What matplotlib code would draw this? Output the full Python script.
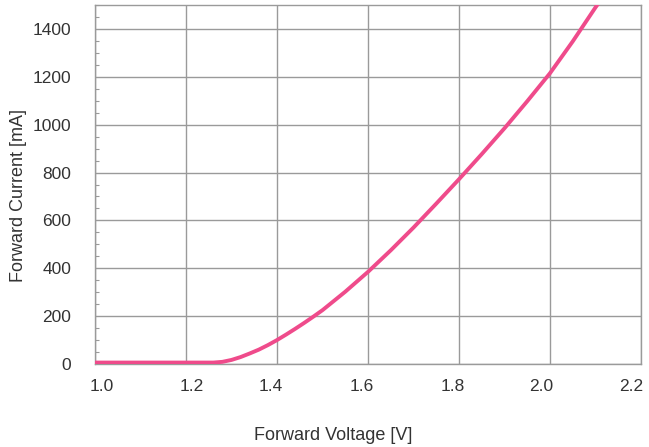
import matplotlib
matplotlib.use("Agg")
import matplotlib.pyplot as plt
from matplotlib.ticker import MultipleLocator
from matplotlib.transforms import ScaledTranslation

plt.rcParams['font.family'] = ['Liberation Sans', 'DejaVu Sans']

voltage = [1.00, 1.10, 1.20, 1.26, 1.28, 1.30, 1.32, 1.34, 1.36, 1.38, 1.40,
           1.42, 1.44, 1.46, 1.48, 1.50, 1.55, 1.60, 1.65, 1.70, 1.75, 1.80,
           1.85, 1.90, 1.95, 2.00, 2.05, 2.10, 2.13]
current = [6, 6, 6, 6, 9, 17, 29, 44, 60, 79, 100,
           123, 147, 172, 198, 225, 302, 385, 475, 570, 670, 772,
           877, 985, 1098, 1215, 1348, 1490, 1570]

x_ticks = [1.0, 1.2, 1.4, 1.6, 1.8, 2.0, 2.2]
x_tick_labels = ["1.0", "1.2", "1.4", "1.6", "1.8", "2.0", "2.2"]
y_ticks = [0, 200, 400, 600, 800, 1000, 1200, 1400]

W, H = 649, 447
fig = plt.figure(figsize=(W/100, H/100), dpi=100)
ax = fig.add_axes([95/W, 83/H, 546/W, 359/H])

ax.plot(voltage, current, color='#EF4B8B', linewidth=2.8, solid_capstyle='butt', zorder=3)

ax.set_xlim(1.0, 2.2)
ax.set_ylim(0, 1500)
ax.set_xticks(x_ticks)
ax.set_xticklabels(x_tick_labels)
ax.set_yticks(y_ticks)
ax.yaxis.set_minor_locator(MultipleLocator(50))

ax.grid(True, which='major', color='#9a9a9a', linewidth=1.0)
for s in ax.spines.values():
    s.set_color('#9a9a9a')
    s.set_linewidth(1.0)

ax.tick_params(axis='x', which='major', length=0, pad=11, labelsize=12.5, labelcolor='#333333')
ax.tick_params(axis='y', which='major', length=0, pad=17, labelsize=12.5, labelcolor='#333333')
ax.tick_params(axis='y', which='minor', direction='in', length=3, width=0.8, color='#9a9a9a')

# small horizontal nudges of x tick labels as in the reference (pixels)
nudges = [7, 6, -6, -6, -6, -9, -10]
for lab, dx in zip(ax.get_xticklabels(), nudges):
    lab.set_transform(lab.get_transform() + ScaledTranslation(dx/100, 0, fig.dpi_scale_trans))

fig.text(333/W, 1 - 435/H, 'Forward Voltage [V]', fontsize=13, color='#333333',
         ha='center', va='center')
fig.text(19/W, 1 - 195/H, 'Forward Current [mA]', fontsize=13, color='#333333',
         ha='center', va='center', rotation=90)

fig.savefig('out.png', dpi=100)
